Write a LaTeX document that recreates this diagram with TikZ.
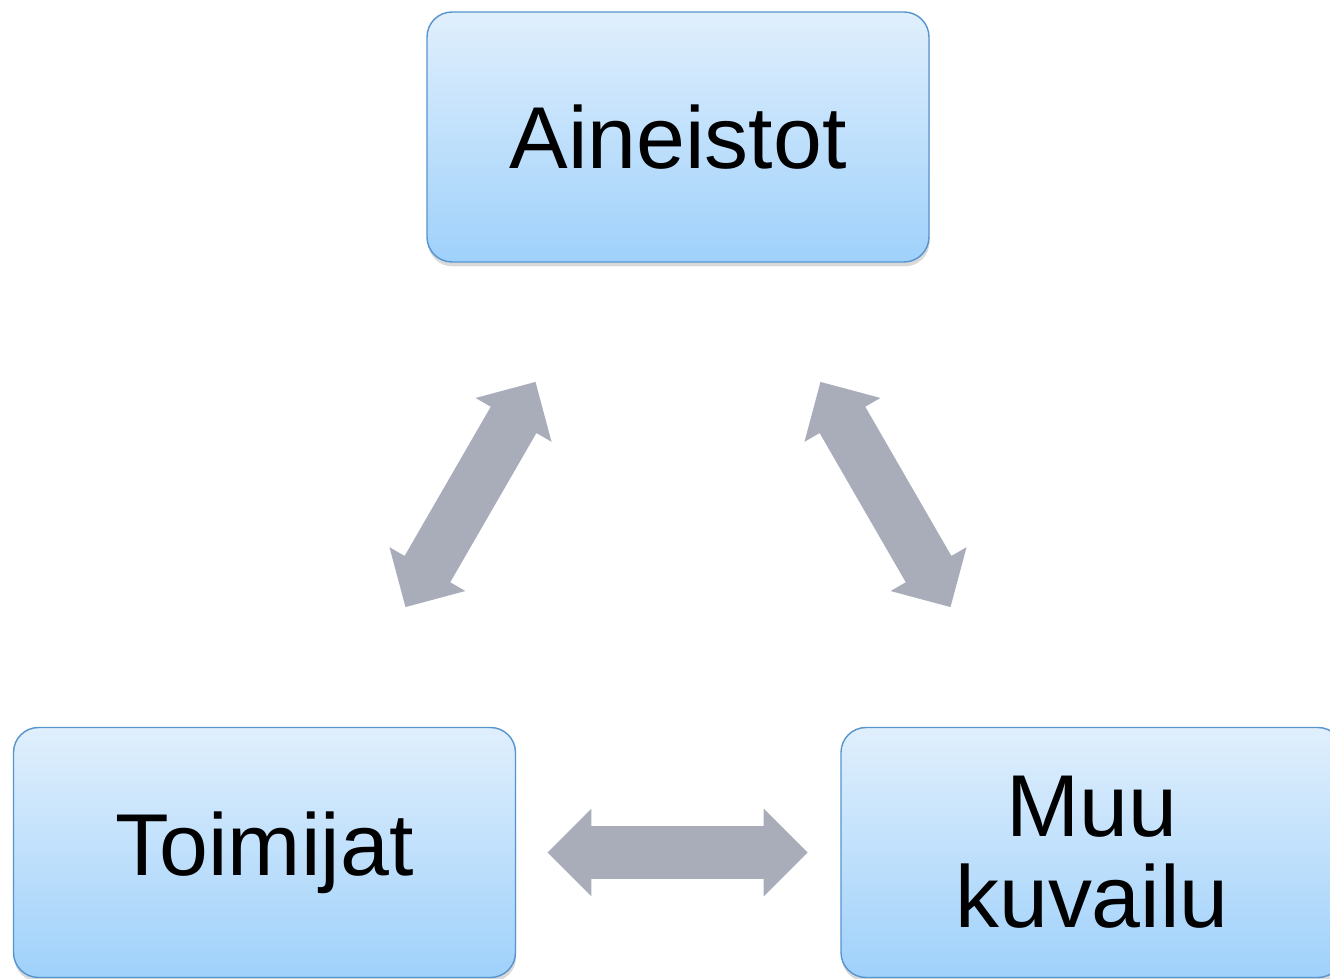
\documentclass[tikz,border=0pt]{standalone}
\usepackage{fontspec}
\setmainfont{Liberation Sans}
\usetikzlibrary{shapes.arrows, shadows}
\definecolor{boxline}{RGB}{86,148,206}
\definecolor{boxtop}{RGB}{224,239,252}
\definecolor{boxbottom}{RGB}{159,209,251}
\definecolor{arrowgray}{RGB}{169,173,186}

\tikzset{
  topic/.style={shape=rectangle, rounded corners=0.5cm, draw=boxline, line width=0.8pt,
    top color=boxtop, bottom color=boxbottom, minimum width=10.04cm, minimum height=5cm,
    align=center, font=\fontsize{50}{52}\selectfont,
    drop shadow={shadow xshift=0.4pt, shadow yshift=-2.5pt, opacity=0.3}},
  link/.style={shape=double arrow, fill=arrowgray, inner xsep=0pt, inner ysep=0.52cm,
    minimum width=1.74cm, minimum height=5.2cm, double arrow head extend=0.35cm,
    double arrow tip angle=90}
}

\begin{document}
\begin{tikzpicture}
    \useasboundingbox (0,0) rectangle (26.6,19.56);
    \node[topic] (aineistot) at (13.56,16.82) {Aineistot};
      \node[topic] (toimijat) at (5.29,2.51) {Toimijat};
      \node[topic] (kuvailu) at (21.84,2.51) {Muu\\kuvailu};

      \node[link, rotate=60] (a2t) at (9.41,9.67) {};
      \node[link, rotate=120] (a2k) at (17.71,9.67) {};
      \node[link] (t2k) at (13.55,2.51) {};
  \end{tikzpicture}
\end{document}
